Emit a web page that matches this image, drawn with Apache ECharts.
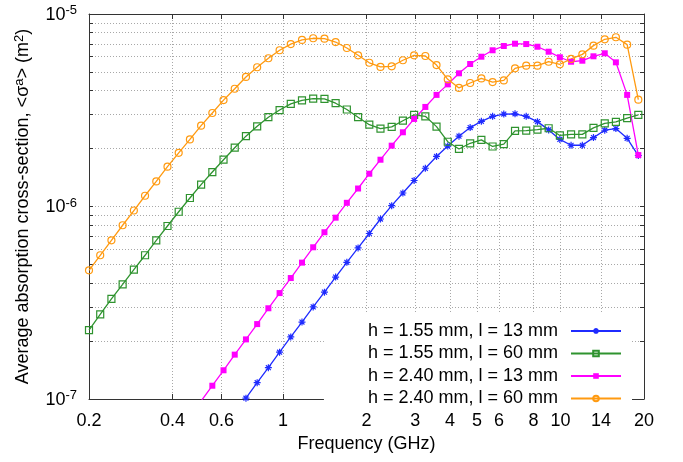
<!DOCTYPE html>
<html>
<head>
<meta charset="utf-8">
<script src="https://cdn.jsdelivr.net/npm/echarts@6/dist/echarts.min.js"></script>
<style>
  html, body { margin: 0; padding: 0; background: #fff; }
  #main { width: 683px; height: 462px; }
</style>
</head>
<body>
<div id="main"></div>
<script>
/* frequency of every sample point (GHz) */
var freqGHz = [0.200, 0.2195, 0.2409, 0.2644, 0.2902, 0.3184, 0.3495, 0.3836, 0.4210, 0.4620,
    0.5070, 0.5565, 0.6107, 0.6702, 0.7356, 0.8073, 0.8860, 0.9724, 1.067, 1.171,
    1.285, 1.411, 1.548, 1.699, 1.865, 2.047, 2.246, 2.465, 2.705, 2.969,
    3.259, 3.576, 3.925, 4.308, 4.727, 5.188, 5.694, 6.249, 6.859, 7.527,
    8.261, 9.066, 9.950, 10.92, 11.99, 13.15, 14.44, 15.84, 17.39, 19.08]

/* h = 1.55 mm, l = 13 mm  (starts at freqGHz[14]) */
var blueStart = 14
var blueVals = [1.01e-7, 1.215e-7, 1.454e-7, 1.75e-7, 2.10e-7, 2.51e-7, 3.01e-7, 3.59e-7, 4.30e-7, 5.13e-7,
    6.09e-7, 7.24e-7, 8.61e-7, 1.01e-6, 1.175e-6, 1.365e-6, 1.58e-6, 1.82e-6, 2.06e-6, 2.32e-6,
    2.57e-6, 2.77e-6, 2.94e-6, 3.02e-6, 3.03e-6, 2.94e-6, 2.76e-6, 2.50e-6, 2.23e-6, 2.08e-6,
    2.08e-6, 2.28e-6, 2.49e-6, 2.54e-6, 2.26e-6, 1.84e-6]

/* h = 1.55 mm, l = 60 mm */
var greenVals = [2.28e-7, 2.75e-7, 3.31e-7, 3.94e-7, 4.70e-7, 5.58e-7, 6.67e-7, 7.92e-7, 9.39e-7, 1.107e-6,
    1.30e-6, 1.51e-6, 1.75e-6, 2.02e-6, 2.32e-6, 2.61e-6, 2.91e-6, 3.17e-6, 3.41e-6, 3.56e-6,
    3.63e-6, 3.62e-6, 3.44e-6, 3.19e-6, 2.91e-6, 2.66e-6, 2.54e-6, 2.59e-6, 2.79e-6, 2.99e-6,
    2.94e-6, 2.60e-6, 2.17e-6, 1.99e-6, 2.13e-6, 2.22e-6, 2.05e-6, 2.11e-6, 2.47e-6, 2.48e-6,
    2.51e-6, 2.55e-6, 2.34e-6, 2.37e-6, 2.37e-6, 2.56e-6, 2.70e-6, 2.75e-6, 2.88e-6, 2.99e-6]

/* h = 2.40 mm, l = 13 mm  (starts at freqGHz[10]) */
var magentaStart = 10
var magentaVals = [9.76e-8, 1.172e-7, 1.41e-7, 1.70e-7, 2.04e-7, 2.45e-7, 2.96e-7, 3.55e-7, 4.25e-7, 5.11e-7,
    6.14e-7, 7.35e-7, 8.75e-7, 1.045e-6, 1.24e-6, 1.48e-6, 1.75e-6, 2.07e-6, 2.43e-6, 2.85e-6,
    3.29e-6, 3.80e-6, 4.31e-6, 4.92e-6, 5.50e-6, 6.00e-6, 6.48e-6, 6.82e-6, 7.01e-6, 6.98e-6,
    6.76e-6, 6.37e-6, 5.96e-6, 5.65e-6, 5.72e-6, 6.03e-6, 6.25e-6, 5.61e-6, 3.80e-6, 1.85e-6]

/* h = 2.40 mm, l = 60 mm */
var orangeVals = [4.66e-7, 5.58e-7, 6.67e-7, 7.99e-7, 9.53e-7, 1.137e-6, 1.349e-6, 1.61e-6, 1.90e-6, 2.23e-6,
    2.63e-6, 3.06e-6, 3.57e-6, 4.09e-6, 4.71e-6, 5.29e-6, 5.89e-6, 6.48e-6, 6.98e-6, 7.33e-6,
    7.48e-6, 7.44e-6, 7.15e-6, 6.66e-6, 6.10e-6, 5.58e-6, 5.31e-6, 5.35e-6, 5.75e-6, 6.10e-6,
    6.05e-6, 5.43e-6, 4.58e-6, 4.13e-6, 4.38e-6, 4.63e-6, 4.43e-6, 4.52e-6, 5.22e-6, 5.39e-6,
    5.39e-6, 5.65e-6, 5.48e-6, 5.84e-6, 6.17e-6, 6.85e-6, 7.39e-6, 7.57e-6, 6.93e-6, 3.59e-6]

var seriesNames = ['h = 1.55 mm, l = 13 mm', 'h = 1.55 mm, l = 60 mm', 'h = 2.40 mm, l = 13 mm', 'h = 2.40 mm, l = 60 mm']
var xTicks = [0.2, 0.4, 0.6, 1, 2, 3, 4, 5, 6, 8, 10, 14, 20]
var yLabelTicks = [1e-7, 1e-6, 1e-5]
var yTicks = [1e-7, 2e-7, 3e-7, 4e-7, 5e-7, 6e-7, 7e-7, 8e-7, 9e-7,
    1e-6, 2e-6, 3e-6, 4e-6, 5e-6, 6e-6, 7e-6, 8e-6, 9e-6, 1e-5]

var FONT = 'Liberation Sans'
var starPath = 'path://M0,5L10,5M5,0L5,10M1.5,1.5L8.5,8.5M8.5,1.5L1.5,8.5'

function pairs (vals, start) {
    var out = []
    for (var i = 0; i < vals.length; i++) {
        out.push([freqGHz[start + i], vals[i]])
    }
    return out
}

function makeSeries (name, color, data, symbol, size, filled) {
    return {
        name: name,
        type: 'line',
        xAxisIndex: 0,
        yAxisIndex: 0,
        data: data,
        symbol: symbol,
        symbolSize: size,
        showAllSymbol: true,
        animation: false,
        lineStyle: { color: color, width: 1.3 },
        itemStyle: {
            color: filled ? color : 'rgba(255,255,255,0)',
            borderColor: color,
            borderWidth: filled ? 0 : 1.2
        },
        emphasis: { disabled: true }
    }
}

var gridLine = { show: true, lineStyle: { color: '#a8a8a8', type: [1, 2], width: 1 } }
var border = { show: true, onZero: false, lineStyle: { color: '#333', width: 1 } }

// 普通文字 + 上标
var supRich = {
    n: { fontFamily: FONT, fontSize: 18, color: '#000', lineHeight: 20, verticalAlign: 'bottom' },
    s: { fontFamily: FONT, fontSize: 13, color: '#000', lineHeight: 13, padding: [0, 0, 9, 0], verticalAlign: 'top' }
}

var myChart = echarts.init(document.getElementById('main'))
var option = {
    backgroundColor: '#fff',
    animation: false,
    textStyle: { fontFamily: FONT },
    grid: { left: 89, right: 39, top: 14, bottom: 63 },
    legend: {
        orient: 'vertical',
        right: 51,
        top: 314,
        align: 'right',
        padding: [8, 10, 2, 44],
        backgroundColor: '#fff',
        itemWidth: 50,
        itemHeight: 7,
        itemGap: 4.5,
        selectedMode: false,
        textStyle: { fontFamily: FONT, fontSize: 18, color: '#000', lineHeight: 14, padding: [0, 8, 0, 0] },
        data: seriesNames
    },
    xAxis: [{
        type: 'log',
        logBase: 10,
        min: 0.2,
        max: 20,
        name: 'Frequency (GHz)',
        nameLocation: 'middle',
        nameGap: 31,
        nameTextStyle: { fontFamily: FONT, fontSize: 18, color: '#000' },
        axisLine: border,
        axisTick: { show: true, inside: true, length: 5, customValues: xTicks, lineStyle: { color: '#333' } },
        axisLabel: { customValues: xTicks, margin: 13, fontFamily: FONT, fontSize: 18, color: '#000',
            formatter: function (v) { return String(+v.toPrecision(3)) } },
        splitLine: gridLine
    }, {
        type: 'log',
        logBase: 10,
        min: 0.2,
        max: 20,
        position: 'top',
        axisLine: border,
        axisTick: { show: true, inside: true, length: 5, customValues: xTicks, lineStyle: { color: '#333' } },
        axisLabel: { show: false },
        splitLine: { show: false }
    }],
    yAxis: [{
        type: 'log',
        logBase: 10,
        min: 1e-7,
        max: 1e-5,
        name: '{n|Average absorption cross-section, <σ}{s|a}{n|> (m}{s|2}{n|)}',
        nameLocation: 'middle',
        nameRotate: 90,
        nameGap: 45,
        nameTextStyle: { fontFamily: FONT, fontSize: 18, color: '#000', rich: supRich },
        axisLine: border,
        axisTick: { show: true, inside: true, length: 4, customValues: yTicks, lineStyle: { color: '#333' } },
        axisLabel: {
            customValues: yLabelTicks,
            margin: 12,
            formatter: function (v) {
                var e = Math.round(Math.log10(v))
                return '{n|10}{s|' + e + '}'
            },
            rich: supRich
        },
        splitLine: gridLine
    }, {
        type: 'log',
        logBase: 10,
        min: 1e-7,
        max: 1e-5,
        position: 'right',
        axisLine: border,
        axisTick: { show: true, inside: true, length: 4, customValues: yTicks, lineStyle: { color: '#333' } },
        axisLabel: { show: false },
        splitLine: { show: false }
    }],
    series: [
        makeSeries(seriesNames[0], '#1f2bff', pairs(blueVals, blueStart), starPath, 7, false),
        makeSeries(seriesNames[1], '#2f932f', pairs(greenVals, 0), 'rect', 7, false),
        makeSeries(seriesNames[2], '#ff00ff', pairs(magentaVals, magentaStart), 'rect', 6, true),
        makeSeries(seriesNames[3], '#ff9a10', pairs(orangeVals, 0), 'circle', 7, false)
    ]
}
myChart.setOption(option)
window.onresize = myChart.resize
</script>
</body>
</html>
